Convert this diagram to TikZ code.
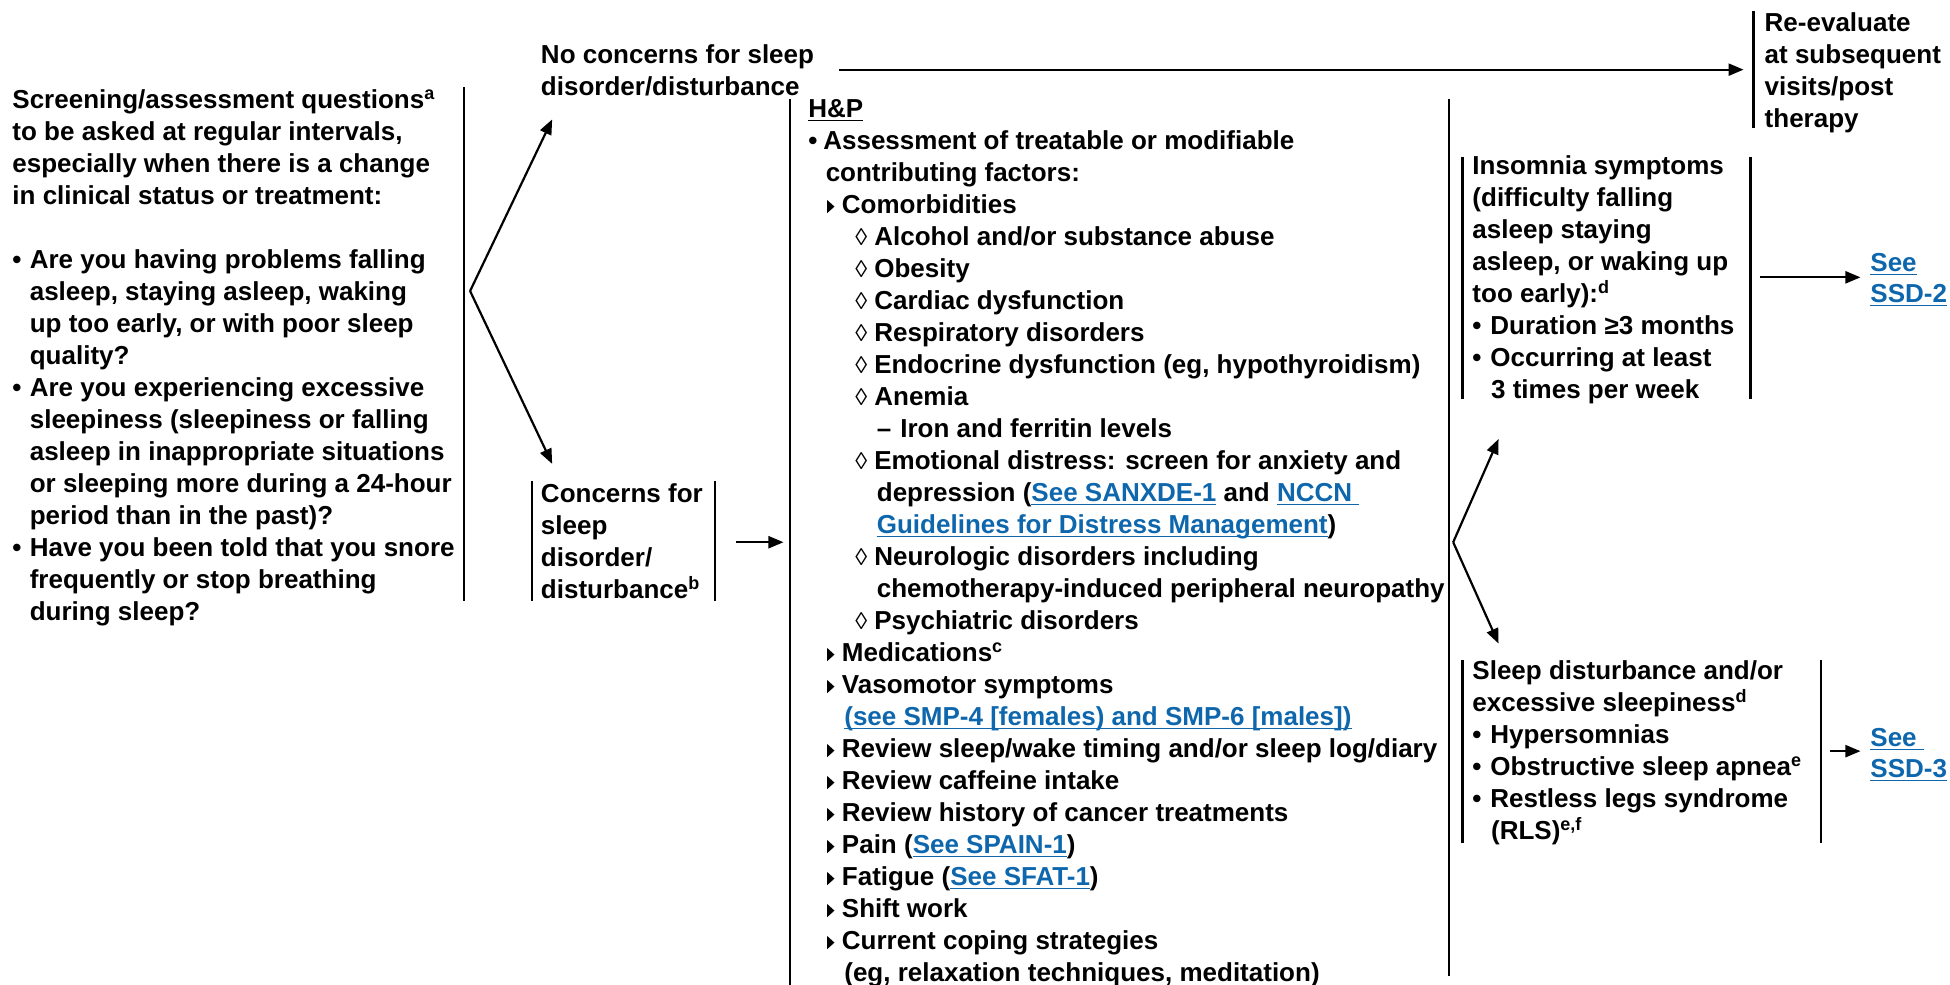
\documentclass[tikz,border=0pt]{standalone}
\usepackage{fontspec}
\setmainfont{Liberation Sans}
\usetikzlibrary{arrows.meta}
\definecolor{linkblue}{RGB}{14,103,173}
\newcommand\supx[1]{\raisebox{9pt}{\fontsize{18}{18}\selectfont #1}}
\newcommand\lnk[1]{{\color{linkblue}\setbox0\hbox{#1}\rlap{\rule[-0.14em]{\wd0}{0.06em}}\box0}}
\newcommand\ulk[1]{{\setbox0\hbox{#1}\rlap{\rule[-0.14em]{\wd0}{0.06em}}\box0}}
\newcommand\itm[3]{\makebox[#1][l]{#2}#3}
\newcommand\tri{\raisebox{0.3pt}{\tikz\fill (0pt,0pt) -- (0pt,13.3pt) -- (7.4pt,6.65pt) -- cycle;}}
\newcommand\dia{{\mdseries\fontsize{24}{24}\selectfont ◊}}
\newcommand\fst{\rule{0pt}{22.4pt}}
\begin{document}
\lineskiplimit=-100pt
\begin{tikzpicture}[x=1.2436pt,y=-1.2436pt,
  bar/.style={line width=2.2pt},
  arr/.style={line width=2.2pt,-{Triangle[length=15pt,width=12pt]}},
  txt/.style={anchor=north west,inner sep=0pt,outer sep=0pt,align=left,
    yshift=22.4pt,font=\bfseries\fontsize{26}{32}\selectfont},
  ntxt/.style={txt}]
\useasboundingbox (0,0) rectangle (1568,792);

% left screening block
\node[txt] (scr) at (10,87) {\fst Screening/assessment questions\supx{a}\\
to be asked at regular intervals,\\
especially when there is a change\\
in clinical status or treatment:\\
\mbox{}\\
\itm{17.4pt}{•}{Are you having problems falling}\\
\hspace*{17.4pt}asleep, staying asleep, waking\\
\hspace*{17.4pt}up too early, or with poor sleep\\
\hspace*{17.4pt}quality?\\
\itm{17.4pt}{•}{Are you experiencing excessive}\\
\hspace*{17.4pt}sleepiness (sleepiness or falling\\
\hspace*{17.4pt}asleep in inappropriate situations\\
\hspace*{17.4pt}or sleeping more during a 24-hour\\
\hspace*{17.4pt}period than in the past)?\\
\itm{17.4pt}{•}{Have you been told that you snore}\\
\hspace*{17.4pt}frequently or stop breathing\\
\hspace*{17.4pt}during sleep?};
\draw[bar] (373,70) -- (373,483);

% no concerns
\node[txt] (noc) at (435,51) {\fst No concerns for sleep\\ disorder/disturbance};
% concerns
\node[txt] (con) at (435,404) {\fst Concerns for\\ sleep\\ disorder/\\ disturbance\supx{b}};
\draw[bar] (428,387) -- (428,483);
\draw[bar] (575,387) -- (575,483);

% re-evaluate
\node[txt] (rev) at (1419,25.5) {\fst Re-evaluate\\ at subsequent\\ visits/post\\ therapy};
\draw[bar] (1410,9) -- (1410,103);

% H&P
\node[ntxt] (hp) at (650,94.5) {\fst\ulk{H\&P}\\
\itm{15pt}{•}{Assessment of treatable or modifiable}\\
\hspace*{17.4pt}contributing factors:\\
\hspace*{18.7pt}\itm{14.9pt}{\tri}{Comorbidities}\\
\hspace*{47pt}\itm{19pt}{\dia}{Alcohol and/or substance abuse}\\
\hspace*{47pt}\itm{19pt}{\dia}{Obesity}\\
\hspace*{47pt}\itm{19pt}{\dia}{Cardiac dysfunction}\\
\hspace*{47pt}\itm{19pt}{\dia}{Respiratory disorders}\\
\hspace*{47pt}\itm{19pt}{\dia}{Endocrine dysfunction (eg, hypothyroidism)}\\
\hspace*{47pt}\itm{19pt}{\dia}{Anemia}\\
\hspace*{68.4pt}\itm{23.6pt}{–}{Iron and ferritin levels}\\
\hspace*{47pt}\itm{19pt}{\dia}{Emotional distress: screen for anxiety and}\\
\hspace*{68.5pt}depression (\lnk{See SANXDE-1} and \lnk{NCCN\ }\\
\hspace*{68.5pt}\lnk{Guidelines for Distress Management})\\
\hspace*{47pt}\itm{19pt}{\dia}{Neurologic disorders including}\\
\hspace*{68.5pt}chemotherapy-induced peripheral neuropathy\\
\hspace*{47pt}\itm{19pt}{\dia}{Psychiatric disorders}\\
\hspace*{18.7pt}\itm{14.9pt}{\tri}{Medications\supx{c}}\\
\hspace*{18.7pt}\itm{14.9pt}{\tri}{Vasomotor symptoms}\\
\hspace*{36pt}\lnk{(see SMP-4 [females) and SMP-6 [males])}\\
\hspace*{18.7pt}\itm{14.9pt}{\tri}{Review sleep/wake timing and/or sleep log/diary}\\
\hspace*{18.7pt}\itm{14.9pt}{\tri}{Review caffeine intake}\\
\hspace*{18.7pt}\itm{14.9pt}{\tri}{Review history of cancer treatments}\\
\hspace*{18.7pt}\itm{14.9pt}{\tri}{Pain (\lnk{See SPAIN-1})}\\
\hspace*{18.7pt}\itm{14.9pt}{\tri}{Fatigue (\lnk{See SFAT-1})}\\
\hspace*{18.7pt}\itm{14.9pt}{\tri}{Shift work}\\
\hspace*{18.7pt}\itm{14.9pt}{\tri}{Current coping strategies}\\
\hspace*{36pt}(eg, relaxation techniques, meditation)};
\draw[bar] (635,80) -- (635,792);
\draw[bar] (1165,80) -- (1165,785);

% insomnia
\node[txt] (ins) at (1184,140.7) {\fst Insomnia symptoms\\
(difficulty falling\\
asleep staying\\
asleep, or waking up\\
too early):\supx{d}\\
\itm{18pt}{•}{Duration ≥3 months}\\
\itm{18pt}{•}{Occurring at least}\\
\hspace*{18.7pt}3 times per week};
\draw[bar] (1176,126) -- (1176,320.5);
\draw[bar] (1407.5,126) -- (1407.5,320.5);

% sleep disturbance
\node[txt] (sld) at (1184,546) {\fst Sleep disturbance and/or\\
excessive sleepiness\supx{d}\\
\itm{18pt}{•}{Hypersomnias}\\
\itm{18pt}{•}{Obstructive sleep apnea\supx{e}}\\
\itm{18pt}{•}{Restless legs syndrome}\\
\hspace*{18.7pt}(RLS)\supx{e,f}};
\draw[bar] (1176,530.5) -- (1176,678);
\draw[bar] (1464,530.5) -- (1464,678);

% see links
\node[txt,font=\bfseries\fontsize{26}{31}\selectfont] (ssd2) at (1504,218.5) {\fst\lnk{See}\\ \lnk{SSD-2}};
\node[txt,font=\bfseries\fontsize{26}{31}\selectfont] (ssd3) at (1504,600.5) {\fst\lnk{See\ }\\ \lnk{SSD-3}};

% connector coordinates
\coordinate (f1) at (378,234);
\coordinate (nocin) at (444,96);
\coordinate (conin) at (444,373);
\coordinate (conout) at (592,436);
\coordinate (hpin) at (630,436);
\coordinate (nocout) at (675,56);
\coordinate (revin) at (1402,56);
\coordinate (f2) at (1168.5,436);
\coordinate (insin) at (1205,353);
\coordinate (sldin) at (1205,517.5);
\coordinate (insout) at (1415.5,223);
\coordinate (ssd2in) at (1496,223);
\coordinate (sldout) at (1471.5,604);
\coordinate (ssd3in) at (1496,604);

\draw[arr] (f1) -- (nocin);
\draw[arr] (f1) -- (conin);
\draw[arr] (conout) -- (hpin);
\draw[arr] (nocout) -- (revin);
\draw[arr] (f2) -- (insin);
\draw[arr] (f2) -- (sldin);
\draw[arr] (insout) -- (ssd2in);
\draw[arr] (sldout) -- (ssd3in);
\end{tikzpicture}
\end{document}
